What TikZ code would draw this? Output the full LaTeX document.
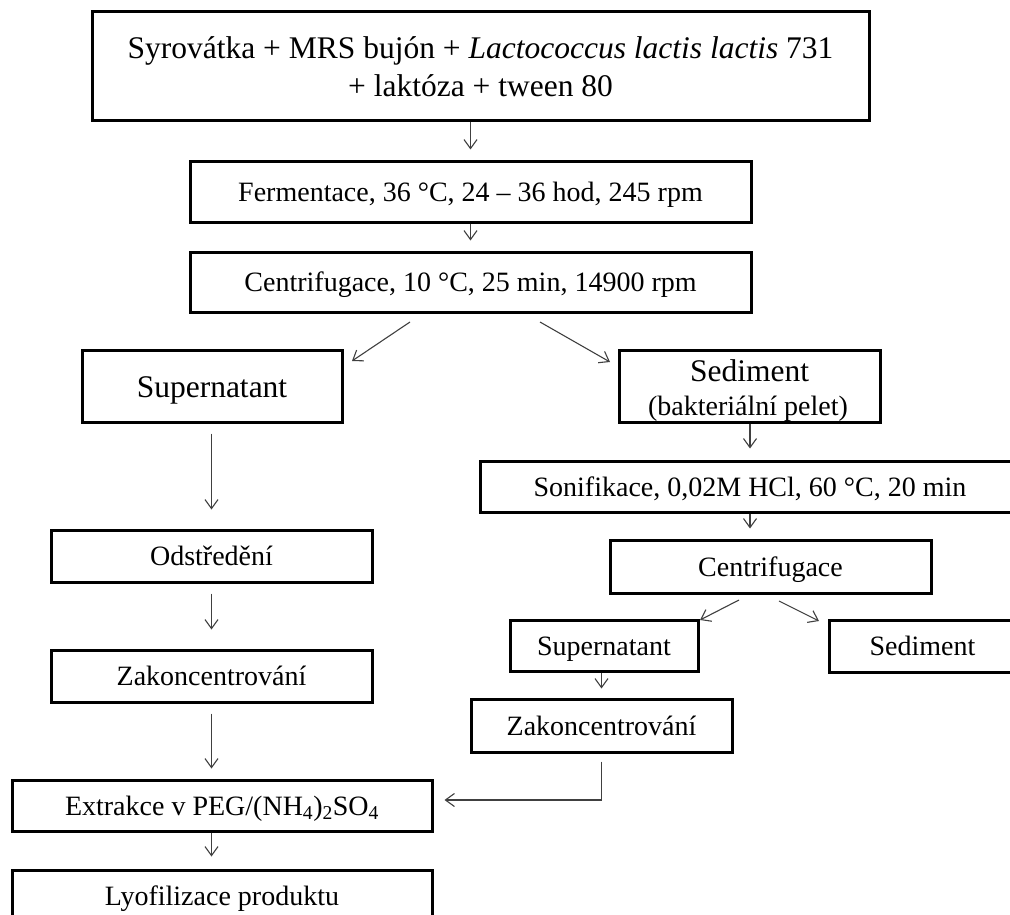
\documentclass[tikz,border=0pt]{standalone}
\usepackage{fontspec}
\setmainfont{Liberation Serif}
\usetikzlibrary{arrows.meta,calc}
\tikzset{
  frame/.style={draw=black, line width=3pt, inner sep=0pt, fill=white},
  box/.style={frame, text height=19.5pt, text depth=0pt, font=\fontsize{28}{34}\selectfont},
  bigbox/.style={frame, text height=22pt, text depth=0pt, font=\fontsize{31.5}{38}\selectfont},
  lbl/.style={inner sep=0pt, anchor=base},
  arr/.style={draw=black!75, line width=1.1pt, -{Straight Barb[length=9pt,width=13pt]}},
}
\begin{document}
\begin{tikzpicture}[x=1pt,y=-1pt]
\useasboundingbox (0,0) rectangle (1010,915);
\clip (0,0) rectangle (1010,915);
\fill[white] (0,0) rectangle (1010,915);

% main column
\node[frame, align=center, font=\fontsize{31.5}{38}\selectfont, minimum width=777, minimum height=109] (top) at (480.5,66.5)
  {Syrovátka + MRS bujón + \textit{Lactococcus lactis lactis} 731\\+ laktóza + tween 80};
\node[box, minimum width=561, minimum height=60] (ferm) at (470.5,192) {Fermentace, 36 °C, 24 – 36 hod, 245 rpm};
\node[box, minimum width=561, minimum height=60] (cent) at (470.5,282) {Centrifugace, 10 °C, 25 min, 14900 rpm};

% left branch
\node[bigbox, minimum width=260, minimum height=72] (sup) at (212,386) {Supernatant};
\node[box, minimum width=321, minimum height=52] (odst) at (211.5,556) {Odstředění};
\node[box, minimum width=321, minimum height=52] (zak) at (211.5,676) {Zakoncentrování};
\node[box, minimum width=420, minimum height=51] (ext) at (222,805.5) {Extrakce v PEG/(NH\textsubscript{4})\textsubscript{2}SO\textsubscript{4}};
\node[box, minimum width=420, minimum height=51] (lyo) at (222,895.5) {Lyofilizace produktu};

% right branch
\node[frame, minimum width=261, minimum height=72] (sed) at (749.5,386) {};
\node[lbl, font=\fontsize{31.5}{38}\selectfont] (sedA) at (749.5,381) {Sediment};
\node[lbl, font=\fontsize{28}{34}\selectfont] (sedB) at (748,415) {(bakteriální pelet)};
\node[box, minimum width=540, minimum height=51] (son) at (750,486.5) {Sonifikace, 0,02M HCl, 60 °C, 20 min};
\node[box, minimum width=321, minimum height=53] (cent2) at (770.5,566.5) {Centrifugace};
\node[box, minimum width=188, minimum height=51] (sup2) at (604,645.5) {Supernatant};
\node[box, minimum width=187, minimum height=52] (sed2) at (922.5,646) {Sediment};
\node[box, minimum width=261, minimum height=53] (zak2) at (601.5,725.5) {Zakoncentrování};

% connectors
\draw[arr, shorten >=11pt] (top.south -| ferm.north) -- (ferm.north);
\draw[arr, shorten >=10pt] (cent.north |- ferm.south) -- (cent.north);

\coordinate (c3s) at (410,322);
\coordinate (c3e) at (352,361);
\coordinate (c4s) at (540,322);
\coordinate (c4e) at (610,362);
\draw[arr] (c3s) -- (c3e);
\draw[arr] (c4s) -- (c4e);

\draw[arr, shorten <=10pt, shorten >=19pt] (odst.north |- sup.south) -- (odst.north);
\draw[arr, shorten <=10pt, shorten >=19pt] (zak.north |- odst.south) -- (zak.north);
\draw[arr, shorten <=10pt, shorten >=10pt] (zak.south) -- (zak.south |- ext.north);
\draw[arr, shorten >=12pt] (zak.south |- ext.south) -- (zak.south |- lyo.north);

\draw[arr, shorten >=11pt] (sed.south -| son.north) -- (son.north);
\draw[arr, shorten >=10pt] (son.south) -- (son.south |- cent2.north);

\coordinate (c11s) at (739,600);
\coordinate (c11e) at (700,620);
\coordinate (c12s) at (779,601);
\coordinate (c12e) at (819,621);
\draw[arr] (c11s) -- (c11e);
\draw[arr] (c12s) -- (c12e);

\draw[arr, shorten >=9pt] (zak2.north |- sup2.south) -- (zak2.north);
\coordinate (bend) at (601.5,800);
\draw[arr, shorten <=8pt, shorten >=11pt] (zak2.south) -- (bend) -- (bend -| ext.east);
\end{tikzpicture}
\end{document}
